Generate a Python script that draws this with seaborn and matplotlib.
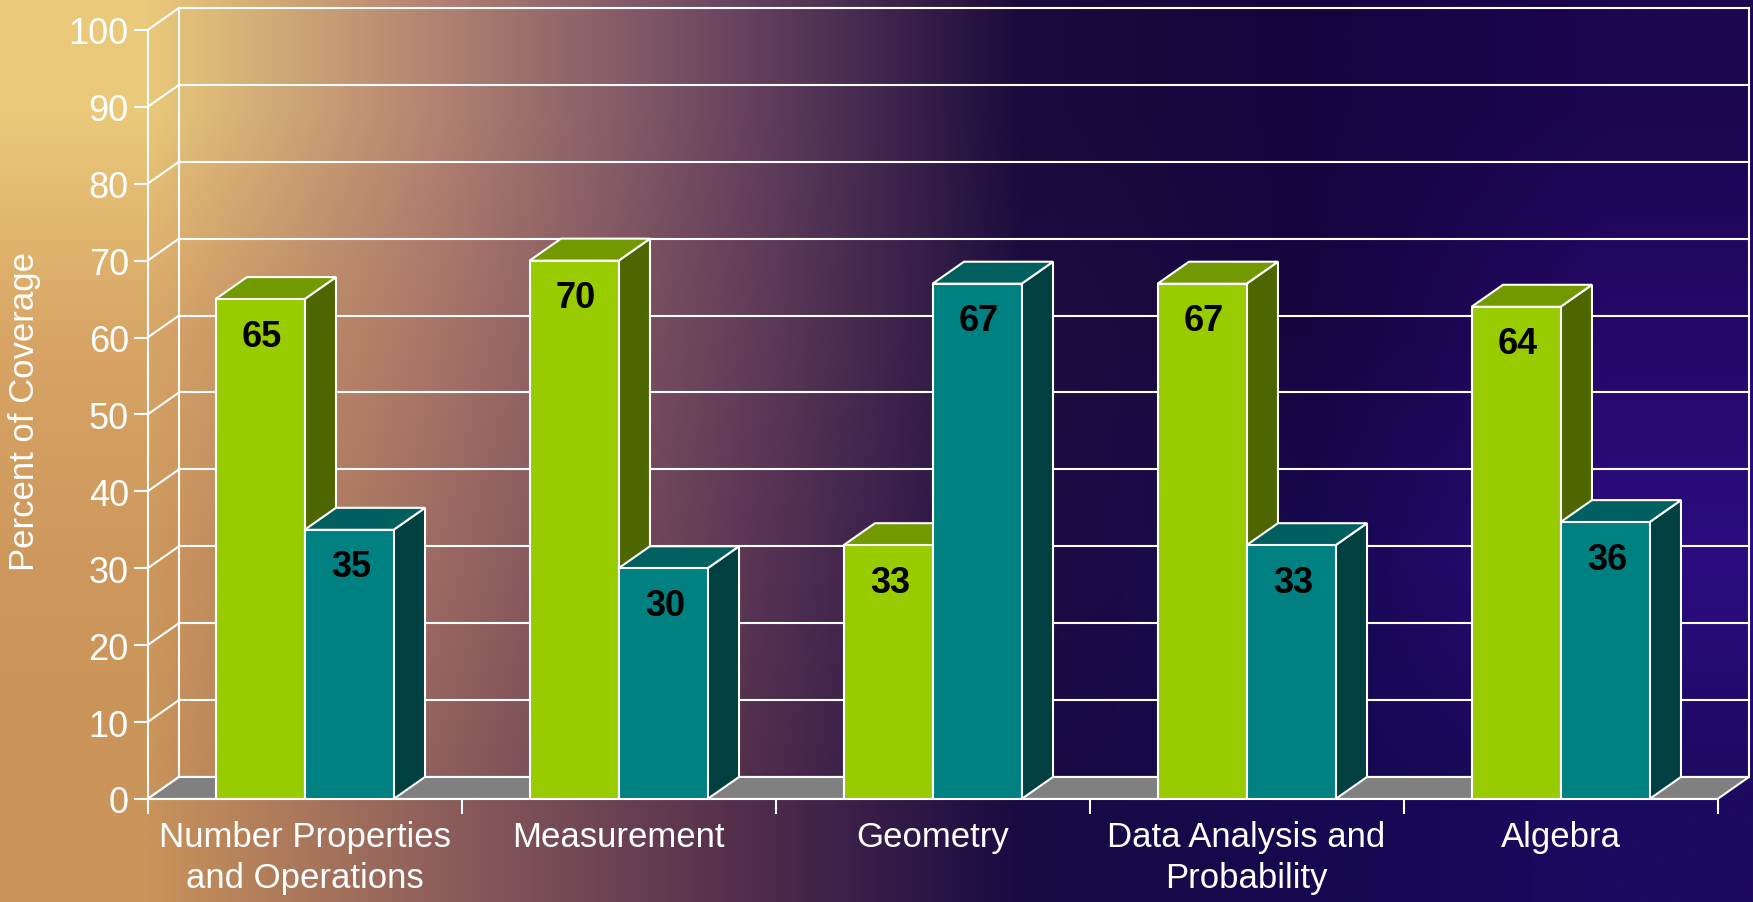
import numpy as np
import pandas as pd
import matplotlib
matplotlib.use("Agg")
import matplotlib.pyplot as plt
import seaborn as sns
from matplotlib.patches import Polygon
from matplotlib.colors import to_rgb

# ---------------- data ----------------
categories = ["Number Properties\nand Operations", "Measurement", "Geometry",
              "Data Analysis and\nProbability", "Algebra"]
series_names = ["Series 1", "Series 2"]
series1_values = [65, 70, 33, 67, 64]
series2_values = [35, 30, 67, 33, 36]
y_ticks = [0, 10, 20, 30, 40, 50, 60, 70, 80, 90, 100]
y_label = "Percent of Coverage"

# ---------------- style ----------------
plt.rcParams['font.family'] = ['Liberation Sans', 'DejaVu Sans']
GREEN = "#99CC00"
TEAL = "#008080"
WHITE = "white"
LW = 1.5
DX = 0.10    # depth offset (category units)
DY = 2.86    # depth offset (value units)

df = pd.DataFrame({
    "category": categories * 2,
    "series": [series_names[0]] * len(categories) + [series_names[1]] * len(categories),
    "value": series1_values + series2_values,
})

fig = plt.figure(figsize=(17.53, 9.03), dpi=100)

# background gradient
bg_cols = [
    ["#EAC97A", "#B28272", "#6A4560", "#1A0A3C", "#140540", "#1C0650"],
    ["#D8A566", "#A87468", "#66405A", "#1E0E40", "#150540", "#26086A"],
    ["#CE985C", "#9C6A62", "#5E3856", "#1C0C44", "#170850", "#2C0C80"],
    ["#CA945A", "#8E5E5C", "#55304D", "#180A42", "#150850", "#1C0A60"],
]
bg_img = np.array([[to_rgb(c) for c in row] for row in bg_cols])
bg = fig.add_axes([0, 0, 1, 1])
bg.imshow(bg_img, extent=[0, 1, 0, 1], aspect="auto", interpolation="bilinear", origin="upper")
bg.set_axis_off()
bg.set_zorder(0)

ax = fig.add_axes([0.0842, 0.1141, 0.9135, 0.876])
ax.set_zorder(1)
ax.patch.set_alpha(0)

sns.barplot(data=df, x="category", y="value", hue="series", palette=[GREEN, TEAL],
            saturation=1, width=0.567, edgecolor=WHITE, linewidth=LW, legend=False, ax=ax)
bars = [p for p in ax.patches]

ax.set_xlim(-0.5, len(categories) - 0.5 + DX)
ax.set_ylim(0, 100 + DY)
for s in ax.spines.values():
    s.set_visible(False)

x_left = -0.5
x_right = len(categories) - 0.5

# back wall grid + side wall diagonals
for v in y_ticks:
    ax.plot([x_left + DX, x_right + DX], [v + DY, v + DY], color=WHITE, lw=LW, zorder=1, clip_on=False)
    ax.plot([x_left, x_left + DX], [v, v + DY], color=WHITE, lw=LW, zorder=1, clip_on=False)
ax.plot([x_left + DX] * 2, [DY, 100 + DY], color=WHITE, lw=LW, zorder=1, clip_on=False)
ax.plot([x_right + DX] * 2, [DY, 100 + DY], color=WHITE, lw=LW, zorder=1, clip_on=False)
ax.plot([x_left, x_left], [0, 100], color=WHITE, lw=LW, zorder=1, clip_on=False)

# floor
floor = Polygon([(x_left, 0), (x_right, 0), (x_right + DX, DY), (x_left + DX, DY)],
                closed=True, facecolor="#808080", edgecolor=WHITE, lw=LW, zorder=1.5, clip_on=False)
ax.add_patch(floor)
ax.plot([x_left, x_right], [0, 0], color=WHITE, lw=LW, zorder=1.6, clip_on=False)

# 3D faces for each bar, drawn left to right
bars_sorted = sorted(bars, key=lambda b: b.get_x())
for i, b in enumerate(bars_sorted):
    x0, w, h = b.get_x(), b.get_width(), b.get_height()
    fc = np.array(b.get_facecolor()[:3])
    z = 3 + 2 * i
    top = Polygon([(x0, h), (x0 + w, h), (x0 + w + DX, h + DY), (x0 + DX, h + DY)], closed=True,
                  facecolor=fc * 0.75, edgecolor=WHITE, lw=LW, zorder=z, clip_on=False)
    side = Polygon([(x0 + w, 0), (x0 + w + DX, DY), (x0 + w + DX, h + DY), (x0 + w, h)], closed=True,
                   facecolor=fc * 0.5, edgecolor=WHITE, lw=LW, zorder=z, clip_on=False)
    ax.add_patch(side)
    ax.add_patch(top)
    b.set_zorder(z + 1)
    ax.annotate(f"{h:.0f}", xy=(x0 + w / 2, h), xytext=(2, -37), textcoords="offset pixels",
                ha="center", va="center", fontsize=26, fontweight="bold", color="black",
                zorder=50)

# ticks
ax.set_yticks(y_ticks)
ax.set_yticklabels([str(t) for t in y_ticks])
ax.tick_params(axis="y", colors=WHITE, length=10, width=LW, labelsize=26, pad=3.5, direction="out")
ax.set_xticks(range(len(categories)))
ax.set_xticklabels(categories)
ax.set_xticks([k - 0.5 for k in range(len(categories) + 1)], minor=True)
ax.tick_params(axis="x", which="major", length=0, labelsize=25, labelcolor=WHITE, pad=15)
ax.tick_params(axis="x", which="minor", length=11, width=LW, color=WHITE, direction="out")
for lbl in ax.get_xticklabels():
    lbl.set_linespacing(1.3)
ax.set_xlabel("")
ax.set_ylabel(y_label, color=WHITE, fontsize=25, va="center")
ax.yaxis.set_label_coords(-0.0766, 0.4905)
ax.grid(False)

fig.savefig("out.png", dpi=100)
